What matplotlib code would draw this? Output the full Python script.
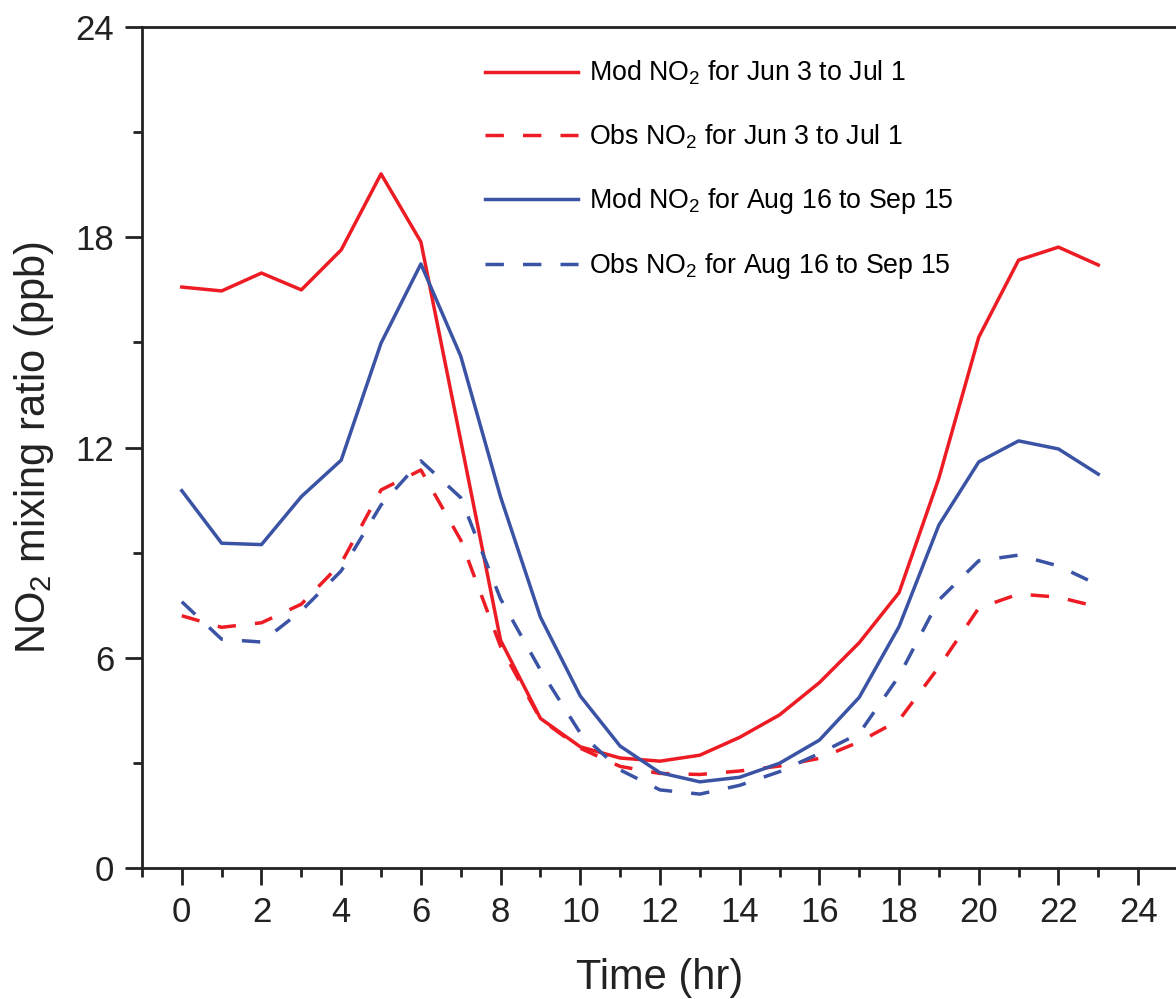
import matplotlib
matplotlib.use('Agg')
import matplotlib.pyplot as plt
from matplotlib.ticker import MultipleLocator

plt.rcParams['font.family'] = ['Liberation Sans', 'DejaVu Sans']
plt.rcParams['mathtext.fontset'] = 'custom'
plt.rcParams['mathtext.rm'] = 'Liberation Sans'
plt.rcParams['mathtext.it'] = 'Liberation Sans'

# hourly NO2 (ppb)
hours = list(range(24))
mod_jun = [16.58, 16.47, 16.98, 16.50, 17.64, 19.81, 17.87, 12.2, 6.5, 4.27, 3.46, 3.14,
           3.05, 3.22, 3.73, 4.37, 5.29, 6.43, 7.86, 11.13, 15.15, 17.35, 17.72, 17.21]
obs_jun = [7.2, 6.87, 7.0, 7.53, 8.7, 10.79, 11.36, 9.36, 6.32, 4.25, 3.42, 2.9,
           2.7, 2.67, 2.77, 2.91, 3.13, 3.6, 4.22, 5.74, 7.42, 7.82, 7.73, 7.45]
mod_aug = [10.77, 9.27, 9.23, 10.6, 11.64, 14.98, 17.24, 14.61, 10.59, 7.16, 4.91, 3.48,
           2.72, 2.46, 2.59, 2.99, 3.65, 4.87, 6.89, 9.79, 11.59, 12.19, 11.96, 11.24]
obs_aug = [7.6, 6.53, 6.45, 7.34, 8.48, 10.36, 11.62, 10.57, 7.68, 5.65, 3.85, 2.8,
           2.23, 2.11, 2.36, 2.75, 3.27, 3.84, 5.48, 7.65, 8.77, 8.93, 8.62, 8.08]

labels = ['Mod NO$_2$ for Jun 3 to Jul 1', 'Obs NO$_2$ for Jun 3 to Jul 1',
          'Mod NO$_2$ for Aug 16 to Sep 15', 'Obs NO$_2$ for Aug 16 to Sep 15']

red = '#ED1C24'
blue = '#3A53A4'

fig = plt.figure(figsize=(11.76, 9.99), dpi=100)
ax = fig.add_axes([0.1207, 0.1311, 0.881, 0.8418])

lw = 2.5
ax.plot(hours, mod_jun, color=red, lw=lw, label=labels[0])
ax.plot(hours, obs_jun, color=red, lw=lw, dashes=(5.3, 5.5), label=labels[1])
ax.plot(hours, mod_aug, color=blue, lw=lw, label=labels[2])
ax.plot(hours, obs_aug, color=blue, lw=lw, dashes=(5.3, 5.5), label=labels[3])

ax.set_xlim(-1, 25)
ax.set_ylim(0, 24)
ax.xaxis.set_major_locator(MultipleLocator(2))
ax.xaxis.set_minor_locator(MultipleLocator(1))
ax.yaxis.set_major_locator(MultipleLocator(6))
ax.yaxis.set_minor_locator(MultipleLocator(3))

for s in ax.spines.values():
    s.set_linewidth(2.0)
    s.set_color('#222222')
ax.spines['right'].set_visible(False)

ax.tick_params(which='major', direction='out', length=12, width=2.0, labelsize=25,
               color='#222222', labelcolor='#222222', pad=8)
ax.tick_params(which='minor', direction='out', length=6.5, width=2.0, color='#222222')
ax.tick_params(top=False, right=False, which='both')

ax.set_xlabel('Time (hr)', fontsize=30, color='#222222', labelpad=21)
ax.set_ylabel('NO$_2$ mixing ratio (ppb)', fontsize=30, color='#222222', labelpad=14)

ax.legend(loc='upper left', bbox_to_anchor=(0.412, 0.941), bbox_transform=fig.transFigure,
          frameon=False, fontsize=19.3, handlelength=3.5, handletextpad=0.4,
          labelspacing=1.31, borderpad=0, borderaxespad=0)

fig.savefig('out.png', dpi=100)
